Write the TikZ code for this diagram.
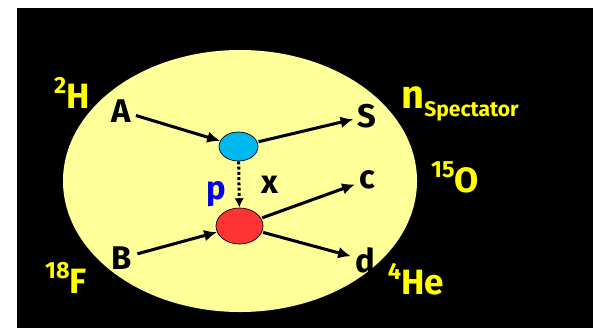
\documentclass[tikz,border=0pt]{standalone}
\usepackage{fontspec}
\setmainfont{Fira Sans}
\usetikzlibrary{arrows.meta, shapes.geometric}
\definecolor{paleyellow}{RGB}{255,255,153}
\definecolor{nucyellow}{RGB}{255,255,0}
\definecolor{blobcyan}{RGB}{0,184,240}
\definecolor{blobred}{RGB}{255,51,51}
\definecolor{pblue}{RGB}{0,0,230}
\newcommand{\nuc}[2]{\raisebox{0.42em}{\fontsize{20}{20}\selectfont #1}#2}

\begin{document}
\begin{tikzpicture}[
  x=0.03cm, y=-0.03cm,
  every node/.style={font=\bfseries\fontsize{28}{30}\selectfont},
  nucl/.style = {text=nucyellow, font=\bfseries\fontsize{30}{32}\selectfont},
  blob/.style = {ellipse, draw=black, line width=0.6pt, inner sep=0pt},
  arr/.style  = {-{Latex[length=11pt,width=10pt]}, line width=2.6pt, shorten <=1pt},
  dots/.style = {-{Latex[length=8pt,width=8pt]}, line width=2.6pt, dash pattern=on 2.5pt off 2pt},
]
  \useasboundingbox (0,0) rectangle (593,328);
  \fill[white] (0,0) rectangle (593,328);
  \fill[black] (17,8) rectangle (593,328);
  \fill[paleyellow] (240,181) ellipse [x radius=5.31cm, y radius=3.93cm];

  % vertices
  \node[blob, fill=blobcyan, minimum width=1.17cm, minimum height=0.87cm] (top) at (238.5,146.5) {};
  \node[blob, fill=blobred,  minimum width=1.41cm, minimum height=1.08cm] (bot) at (239.5,226) {};

  % particles
  \node (A) at (121,111) {A};
  \node (S) at (367,116) {S};
  \node (B) at (122,258) {B};
  \node (c) at (367,180) {c};
  \node (d) at (365,260) {d};
  \node (x) at (270,185) {x};
  \node[text=pblue] (p) at (216,194) {p};

  % nuclei
  \node[nucl] (hydrogen) at (72,93)   {\nuc{2}{H}};
  \node[nucl] (fluorine) at (66,278)  {\nuc{18}{F}};
  \node[nucl] (oxygen)   at (455,177) {\nuc{15}{O}};
  \node[nucl] (helium)   at (416,279) {\nuc{4}{He}};
  \node[nucl] (spect)    at (460,104) {{\fontsize{34}{34}\selectfont n}\raisebox{-7pt}{\fontsize{18}{18}\selectfont Spectator}};

  \foreach \a/\b in {A/top, top/S, B/bot, bot/c, bot/d}\draw[arr](\a)--(\b);
  \draw[dots] (top) -- (bot);
\end{tikzpicture}
\end{document}
